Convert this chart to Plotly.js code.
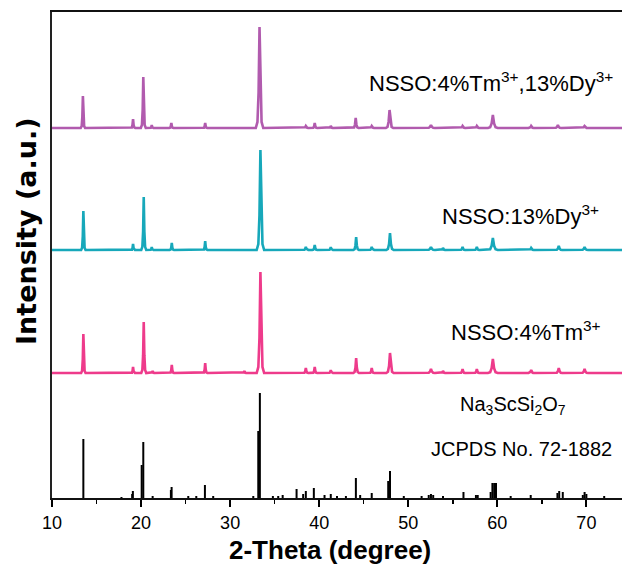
<!DOCTYPE html>
<html>
<head>
<meta charset="utf-8">
<script src="https://cdn.plot.ly/plotly-3.0.1.min.js"></script>
<style>html,body{margin:0;padding:0;background:#fff;}#chart{width:622px;height:564px;}</style>
</head>
<body>
<div id="chart"></div>
<script>
// ---- data (2-theta in degrees, intensity in arbitrary units) ----
// each peak: [2theta, intensity, half-base-width]
const peaksTm = [[13.52,39,0.25],[19.1,6,0.22],[20.3,51,0.28],[21.3,2,0.2],[23.45,8,0.25],[27.2,10,0.25],[31.6,2,0.2],[33.4,101,0.42],[38.5,5,0.28],[39.5,6,0.28],[41.3,3,0.25],[44.15,15,0.32],[45.9,5,0.28],[47.95,20,0.42],[52.55,4,0.45],[53.9,2,0.25],[56.1,4,0.3],[57.7,4,0.3],[59.5,14,0.55],[63.8,3,0.3],[66.9,5,0.4],[69.8,4,0.4]];
const peaksDy = [[13.52,39,0.25],[19.1,6,0.22],[20.3,53,0.28],[21.2,3,0.2],[23.45,7,0.25],[27.2,9,0.25],[33.4,100,0.42],[38.5,3,0.28],[39.5,5,0.28],[41.3,3,0.25],[44.15,13,0.32],[45.9,3,0.28],[47.95,17,0.42],[52.55,3,0.45],[53.9,2,0.25],[56.1,3,0.3],[57.7,3,0.3],[59.5,12,0.55],[63.8,2,0.3],[66.9,4,0.4],[69.8,3,0.4]];
const peaksTmDy = [[13.47,32,0.25],[19.1,9,0.25],[20.25,51,0.28],[21.2,3,0.2],[23.4,5,0.25],[27.2,5,0.25],[33.3,101,0.42],[38.5,2,0.28],[39.5,5,0.28],[41.3,2,0.25],[44.1,10,0.32],[45.9,2,0.28],[47.9,18,0.42],[52.55,3,0.45],[56.1,2,0.3],[57.7,2,0.3],[59.5,13,0.55],[63.8,2,0.3],[66.8,3,0.4],[69.8,2,0.4]];
// JCPDS No. 72-1882 reference lines: [2theta, intensity]
const refPos = [13.52,17.8,19.0,19.08,20.07,20.25,21.3,23.35,23.43,25.3,26.2,27.17,28.1,32.6,33.16,33.34,34.8,35.4,35.9,37.46,38.2,38.5,39.4,40.6,41.3,42.0,43.0,44.12,44.6,45.9,47.75,47.95,49.5,51.5,52.3,52.55,52.8,53.9,56.2,57.6,57.8,59.25,59.45,59.65,59.85,61.5,63.75,66.75,66.95,67.35,69.6,69.8,70.0,72.0];
const refInt = [59,1,4,7,33,56,2,8,11,2,2,13,2,2,67,105,2,2,3,9,4,7,10,3,4,2,2,20,3,5,17,27,2,2,3,4,3,2,6,3,3,6,15,15,15,2,3,5,7,6,3,6,4,2];
const seriesNames = ['NSSO:4%Tm<sup>3+</sup>','NSSO:13%Dy<sup>3+</sup>','NSSO:4%Tm<sup>3+</sup>,13%Dy<sup>3+</sup>'];
const xTicks = [10,20,30,40,50,60,70];

// ---- styles / offsets ----
const offsets = [125, 248, 370];
const colors = ['#EE3B8B', '#17A8BA', '#B15BAE'];
const X0 = 10, X1 = 74;

function profile(peaks, base) {
  const xs = [X0], ys = [base];
  peaks.forEach(([p, h, w]) => {
    xs.push(p - w, p - 0.55 * w, p - 0.25 * w, p, p + 0.25 * w, p + 0.55 * w, p + w);
    ys.push(base, base + 0.06 * h, base + 0.35 * h, base + h, base + 0.35 * h, base + 0.06 * h, base);
  });
  xs.push(X1); ys.push(base);
  return {x: xs, y: ys};
}

const traces = [];
[peaksTm, peaksDy, peaksTmDy].forEach((pk, i) => {
  const pr = profile(pk, offsets[i]);
  traces.push({type: 'scatter', mode: 'lines', x: pr.x, y: pr.y, name: seriesNames[i],
    line: {color: colors[i], width: 2.6, shape: 'linear'}, hoverinfo: 'skip'});
});
const rx = [], ry = [];
refPos.forEach((p, i) => { rx.push(p, p, null); ry.push(0, refInt[i], null); });
traces.push({type: 'scatter', mode: 'lines', x: rx, y: ry, name: 'JCPDS',
  line: {color: '#000', width: 2}, hoverinfo: 'skip'});

const F = 'Liberation Sans, Arial, sans-serif';
const layout = {
  width: 622, height: 564,
  margin: {l: 52, r: 0, t: 12, b: 66},
  paper_bgcolor: '#fff', plot_bgcolor: '#fff',
  showlegend: false,
  xaxis: {
    range: [X0, X1], tickvals: xTicks, ticktext: xTicks.map(String),
    ticks: 'outside', ticklen: 7, tickwidth: 2, tickcolor: '#000',
    minor: {tickvals: [15,25,35,45,55,65], ticks: 'outside', ticklen: 4, tickwidth: 1.5, tickcolor: '#000'},
    showline: true, linewidth: 2, linecolor: '#111', mirror: true,
    showgrid: false, zeroline: false,
    tickfont: {family: F, size: 18, color: '#000'}
  },
  yaxis: {
    range: [0, 486], showticklabels: false, ticks: '',
    showline: true, linewidth: 2, linecolor: '#222', mirror: false,
    showgrid: false, zeroline: false
  },
  annotations: [
    {xref: 'paper', yref: 'paper', x: (26 - 52) / 570, y: (498 - 231) / 486, xanchor: 'center', yanchor: 'middle',
     text: '<b>Intensity (a.u.)</b>', textangle: -90, showarrow: false,
     font: {family: 'DejaVu Sans, sans-serif', size: 27, color: '#000'}},
    {xref: 'paper', yref: 'paper', x: (330 - 52) / 570, y: (498 - 550) / 486, xanchor: 'center', yanchor: 'middle',
     text: '<b>2-Theta (degree)</b>', showarrow: false,
     font: {family: F, size: 26, color: '#000'}},
    {xref: 'x', yref: 'y', x: 45.4, y: 416, xanchor: 'left', yanchor: 'middle', showarrow: false,
     text: seriesNames[2], font: {family: F, size: 22, color: '#000'}},
    {xref: 'x', yref: 'y', x: 53.6, y: 283, xanchor: 'left', yanchor: 'middle', showarrow: false,
     text: seriesNames[1], font: {family: F, size: 22, color: '#000'}},
    {xref: 'x', yref: 'y', x: 54.55, y: 167, xanchor: 'left', yanchor: 'middle', showarrow: false,
     text: seriesNames[0], font: {family: F, size: 22, color: '#000'}},
    {xref: 'x', yref: 'y', x: 61.76, y: 93, xanchor: 'center', yanchor: 'middle', showarrow: false,
     text: 'Na<sub>3</sub>ScSi<sub>2</sub>O<sub>7</sub>', font: {family: F, size: 20, color: '#000'}},
    {xref: 'x', yref: 'y', x: 62.77, y: 49, xanchor: 'center', yanchor: 'middle', showarrow: false,
     text: 'JCPDS No. 72-1882', font: {family: F, size: 20, color: '#000'}}
  ]
};
Plotly.newPlot('chart', traces, layout, {staticPlot: true, displayModeBar: false});
</script>
</body>
</html>
